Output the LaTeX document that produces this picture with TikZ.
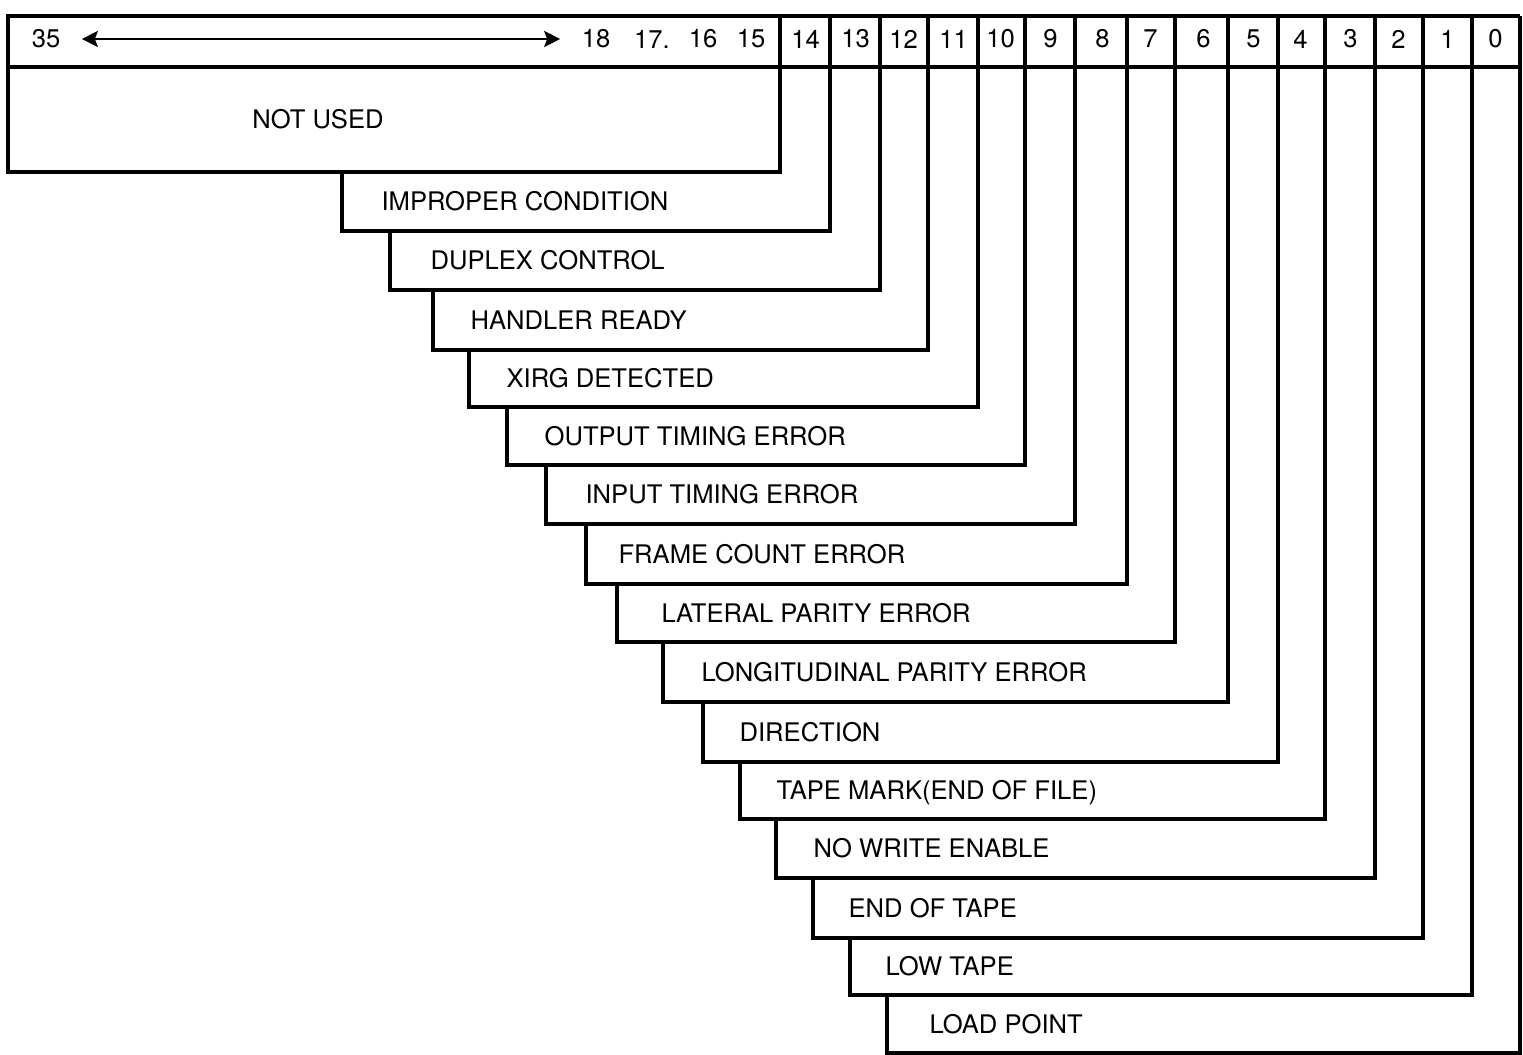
\documentclass[tikz,border=0pt]{standalone}
\usepackage{fontspec}
\setmainfont{TeX Gyre Heros}
\usetikzlibrary{arrows.meta}

\begin{document}
\begin{tikzpicture}[x=0.5pt,y=-0.5pt,line width=1.6pt,
  bitnum/.style={font=\fontsize{12.8}{15}\selectfont,inner sep=0pt},
  fieldtxt/.style={font=\fontsize{12.8}{15}\selectfont,inner sep=0pt,anchor=base west},
  bitarrow/.style={line width=1.2pt,{Stealth[length=8pt,width=8pt,inset=1.5pt]}-{Stealth[length=8pt,width=8pt,inset=1.5pt]}}]
\useasboundingbox (0,0) rectangle (1523,1055);
\draw (8,67) -- (1520,67);
\draw (780,16) -- (780,172) -- (8,172) -- (8,16) -- (1520,16);
\node[bitnum] (nu) at (318,119) {NOT USED};
\node[bitnum,inner xsep=10pt] (b35) at (46,39) {35};
\node[bitnum,inner xsep=10pt] (b18) at (596,39) {18};
\node[bitnum] (b17) at (652,39) {17.};
\node[bitnum] (b16) at (703,39) {16};
\node[bitnum] (b15) at (751,39) {15};
\draw[bitarrow] (b35) -- (b18);
\foreach \b/\l/\r/\t/\bt/\tx/\txt in %
{14/342/830/172/231/380/IMPROPER CONDITION,
 13/390/880/231/290/429/DUPLEX CONTROL,
 12/433/928/290/350/469/HANDLER READY,
 11/469/978/350/407/505/XIRG DETECTED,
 10/507/1025/407/465/543/OUTPUT TIMING ERROR,
 9/546/1075/465/524/584/INPUT TIMING ERROR,
 8/586/1127/524/584/617/FRAME COUNT ERROR,
 7/617/1175/584/642/660/LATERAL PARITY ERROR,
 6/663/1228/642/702/700/LONGITUDINAL PARITY ERROR,
 5/703/1278/702/762/738/DIRECTION,
 4/740/1325/762/819/775/TAPE MARK(END OF FILE),
 3/776/1375/819/878/812/NO WRITE ENABLE,
 2/813/1423/878/938/847/END OF TAPE,
 1/850/1472/938/995/884/LOW TAPE,
 0/887/1520/995/1053/928/LOAD POINT} {
   \draw (\r,16) -- (\r,\bt) -- (\l,\bt) -- (\l,\t);
   \node[fieldtxt] (f\b) at (\tx,{(\t+\bt)/2+9}) {\txt};
   \node[bitnum] (b\b) at ({\r-24.5},39) {\b};
}
\end{tikzpicture}
\end{document}
